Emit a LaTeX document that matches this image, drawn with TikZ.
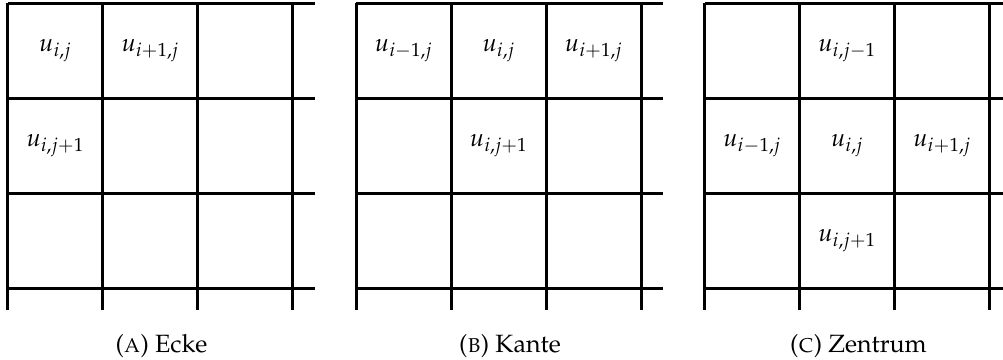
\documentclass[tikz,border=0pt]{standalone}
\usepackage[T1]{fontenc}
\usepackage{mathpazo}
\usepackage{tikz}
\usetikzlibrary{
  positioning
}
\definecolor{gridcolor}{RGB}{0, 0, 0}
\definecolor{labelcolor}{RGB}{0, 0, 0}
\tikzset{
gridline/.style={
  draw=gridcolor,
  line width=1.2pt
},
celllabel/.style={
  font=\normalsize,
  text=labelcolor,
  inner sep=0pt
},
subcaption/.style={
  font=\normalsize,
  text=labelcolor,
  align=center
}
}
% 3x3 cells, lines run past the last cell on the right and at the bottom
\newcommand{\stencilgrid}{%
  \foreach \k in {0,1,2,3} {
    \draw[gridline] (\k,0) -- (\k,-3.232);
    \draw[gridline] (0,-\k) -- (3.232,-\k);
  }%
}

\begin{document}
\begin{tikzpicture}[x=38pt, y=38pt]
      \useasboundingbox (0,0) rectangle (10.558,-3.789);

      % (a) corner
      \begin{scope}[shift={(0.084,-0.032)}]
        \stencilgrid
        \node[celllabel] (a-ij) at (0.5,-0.5) {$u_{i,j}$};
        \node[celllabel] (a-ipj) at (1.5,-0.5) {$u_{i+1,j}$};
        \node[celllabel] (a-ijp) at (0.5,-1.5) {$u_{i,j+1}$};
        \node[subcaption] (capa) at (1.616,-3.61) {(\textsc{a}) Ecke};
      \end{scope}

      % (b) edge
      \begin{scope}[shift={(3.752,-0.032)}]
        \stencilgrid
        \node[celllabel] (b-imj) at (0.5,-0.5) {$u_{i-1,j}$};
        \node[celllabel] (b-ij) at (1.5,-0.5) {$u_{i,j}$};
        \node[celllabel] (b-ipj) at (2.5,-0.5) {$u_{i+1,j}$};
        \node[celllabel] (b-ijp) at (1.5,-1.5) {$u_{i,j+1}$};
        \node[subcaption] (capb) at (1.616,-3.61) {(\textsc{b}) Kante};
      \end{scope}

      % (c) centre
      \begin{scope}[shift={(7.42,-0.032)}]
        \stencilgrid
        \node[celllabel] (c-ijm) at (1.5,-0.5) {$u_{i,j-1}$};
        \node[celllabel] (c-imj) at (0.5,-1.5) {$u_{i-1,j}$};
        \node[celllabel] (c-ij) at (1.5,-1.5) {$u_{i,j}$};
        \node[celllabel] (c-ipj) at (2.5,-1.5) {$u_{i+1,j}$};
        \node[celllabel] (c-ijp) at (1.5,-2.5) {$u_{i,j+1}$};
        \node[subcaption] (capc) at (1.616,-3.61) {(\textsc{c}) Zentrum};
      \end{scope}
    \end{tikzpicture}
\end{document}
